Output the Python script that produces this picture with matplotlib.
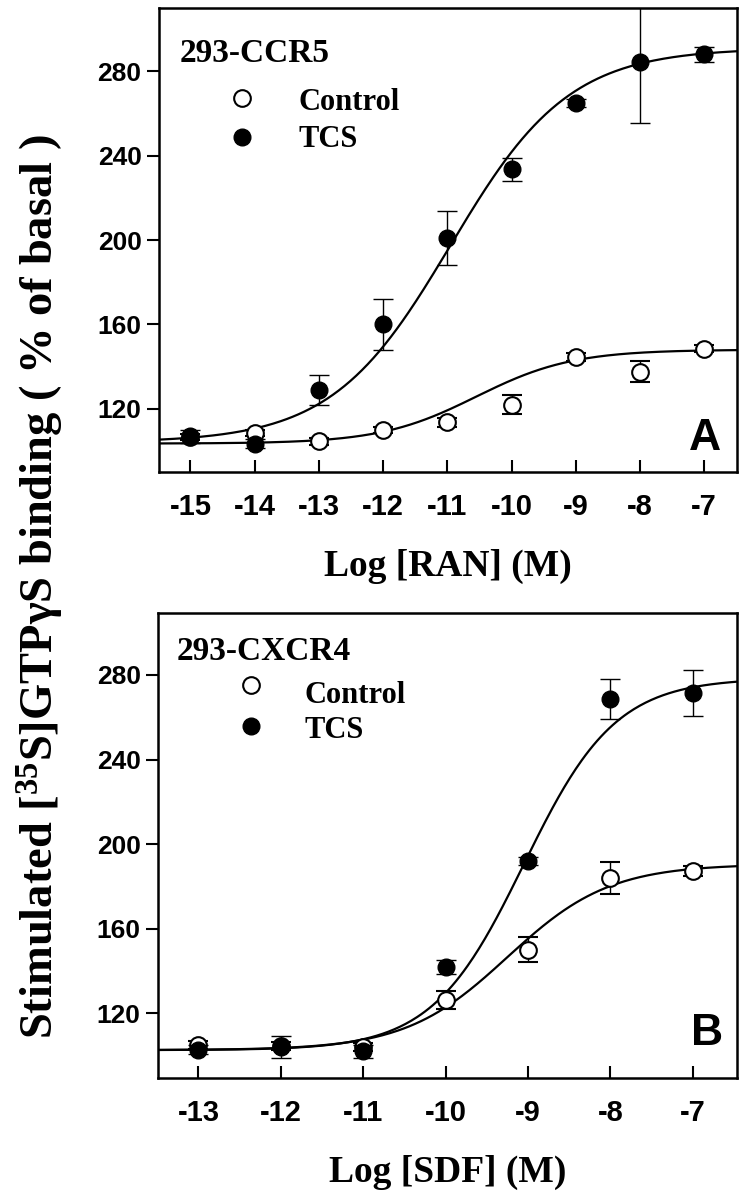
import numpy as np
import matplotlib
matplotlib.use('Agg')
import matplotlib.pyplot as plt

plt.rcParams['mathtext.fontset'] = 'custom'
plt.rcParams['mathtext.rm'] = 'Liberation Serif:bold'
plt.rcParams['mathtext.default'] = 'rm'

# Panel A: RANTES on 293-CCR5 cells
log_ran = [-15, -14, -13, -12, -11, -10, -9, -8, -7]
ran_ctrl = [106.5, 108.5, 104.5, 110, 113.5, 122, 144.5, 137.5, 148.5]
ran_ctrl_err = [1.5, 1.5, 1.5, 1.5, 2, 4.7, 2, 5, 1.5]
ran_tcs = [107, 103.5, 129, 160, 201, 233.5, 265, 284.5, 288]
ran_tcs_err = [3, 2, 7, 12, 13, 5.5, 2, 29, 3.5]

# Panel B: SDF on 293-CXCR4 cells
log_sdf = [-13, -12, -11, -10, -9, -8, -7]
sdf_ctrl = [104.8, 104.5, 104, 126.2, 150, 184, 187.3]
sdf_ctrl_err = [2, 2, 2, 4.2, 6, 7.5, 2.5]
sdf_tcs = [102.7, 104, 102, 141.8, 192, 268.6, 271.4]
sdf_tcs_err = [2, 5, 3, 3.5, 2, 9.5, 11]

# fitted dose-response curves: bottom, top, logEC50, hill slope
fit_ran_ctrl = (103.5, 148, -10.55, 0.58)
fit_ran_tcs = (104, 291, -10.95, 0.47)
fit_sdf_ctrl = (102.5, 190.5, -9.25, 0.70)
fit_sdf_tcs = (102.5, 278.5, -9.05, 0.78)

y_ticks = [120, 160, 200, 240, 280]

SERIF = 'Liberation Serif'
SANS = 'Liberation Sans'


def logistic(x, p):
    bottom, top, ec50, hill = p
    return bottom + (top - bottom) / (1 + 10 ** ((ec50 - x) * hill))


def panel(ax, x, ctrl, ctrl_err, tcs, tcs_err, fit_c, fit_t, xlim, ylim,
          xlabel, title, letter, pos):
    xx = np.linspace(xlim[0], xlim[1], 300)
    ax.plot(xx, logistic(xx, fit_c), color='black', lw=1.6, zorder=2)
    ax.plot(xx, logistic(xx, fit_t), color='black', lw=1.6, zorder=2)

    ax.errorbar(x, ctrl, yerr=ctrl_err, fmt='o', ms=12, mfc='white',
                mec='black', mew=1.5, ecolor='black', elinewidth=1,
                capsize=7, capthick=1, zorder=3)
    ax.errorbar(x, tcs, yerr=tcs_err, fmt='o', ms=12, mfc='black',
                mec='black', ecolor='black', elinewidth=1,
                capsize=7, capthick=1, zorder=4)

    ax.set_xlim(xlim)
    ax.set_ylim(ylim)
    ax.set_xticks(x)
    ax.set_xticklabels([str(v) for v in x])
    ax.set_yticks(y_ticks)
    ax.tick_params(axis='x', direction='in', length=8.5, width=1.5, pad=15,
                   labelsize=21)
    ax.tick_params(axis='y', direction='out', length=8.5, width=1.5, pad=4,
                   labelsize=19)
    for lab in ax.get_xticklabels() + ax.get_yticklabels():
        lab.set_fontfamily(SANS)
        lab.set_fontweight('bold')
    for sp in ax.spines.values():
        sp.set_linewidth(1.8)

    ax.set_xlabel(xlabel, fontsize=27, fontfamily=SERIF, fontweight='bold',
                  labelpad=20)

    # legend drawn by hand
    tx, ty, mx, my_open, my_fill, lx, ly_c, ly_t = pos
    ax.text(tx, ty, title, transform=ax.transAxes, fontsize=24,
            fontfamily=SERIF, fontweight='bold', ha='left', va='center')
    ax.plot([mx], [my_open], 'o', ms=12, mfc='white', mec='black', mew=1.5,
            transform=ax.transAxes, clip_on=False)
    ax.plot([mx], [my_fill], 'o', ms=12, mfc='black', mec='black',
            transform=ax.transAxes, clip_on=False)
    ax.text(lx, ly_c, 'Control', transform=ax.transAxes, fontsize=22,
            fontfamily=SERIF, fontweight='bold', ha='left', va='center')
    ax.text(lx, ly_t, 'TCS', transform=ax.transAxes, fontsize=22,
            fontfamily=SERIF, fontweight='bold', ha='left', va='center')
    ax.text(letter[1], letter[2], letter[0], transform=ax.transAxes,
            fontsize=32, fontfamily=SANS, fontweight='bold',
            ha='center', va='center')


fig = plt.figure(figsize=(7.45, 11.99), dpi=100)
ax_a = fig.add_axes([0.2134, 0.6063, 0.7758, 0.3870])
ax_b = fig.add_axes([0.2121, 0.1009, 0.7765, 0.3878])

panel(ax_a, log_ran, ran_ctrl, ran_ctrl_err, ran_tcs, ran_tcs_err,
      fit_ran_ctrl, fit_ran_tcs, (-15.49, -6.49), (90, 310),
      'Log [RAN] (M)', '293-CCR5', ('A', 0.945, 0.072),
      (0.036, 0.901, 0.144, 0.806, 0.722, 0.242, 0.797, 0.716))
panel(ax_b, log_sdf, sdf_ctrl, sdf_ctrl_err, sdf_tcs, sdf_tcs_err,
      fit_sdf_ctrl, fit_sdf_tcs, (-13.49, -6.47), (89.3, 309.3),
      'Log [SDF] (M)', '293-CXCR4', ('B', 0.949, 0.095),
      (0.033, 0.918, 0.161, 0.845, 0.757, 0.254, 0.822, 0.748))

fig.text(0.055, 0.511, 'Stimulated [$^{35}$S]GTP\u03b3S binding ( % of basal )',
         rotation=90, ha='center', va='center', fontsize=33.5,
         fontfamily=SERIF, fontweight='bold')

fig.savefig('out.png', dpi=100)
